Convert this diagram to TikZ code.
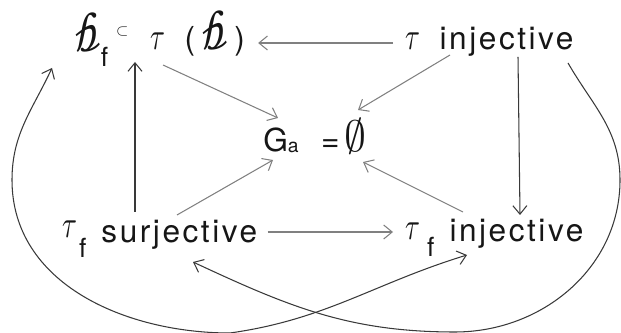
\documentclass[tikz,border=0pt]{standalone}
\usepackage{graphicx}
\usepackage{fontspec}
\setmainfont{TeX Gyre Heros}[LetterSpace=8]
\newfontfamily\scrfont{Latin Modern Math}
\IfFontExistsTF{STIX Two Math}{\newfontfamily\cursfont{STIX Two Math}}
  {\IfFontExistsTF{XITS Math}{\newfontfamily\cursfont{XITS Math}}
    {\newfontfamily\cursfont{Asana Math}}}
\usetikzlibrary{arrows.meta,calc}
\definecolor{dgInk}{HTML}{161616}
\definecolor{dgGray}{HTML}{808080}
\newcommand{\tauit}{\scalebox{0.7}[1]{{\scrfont\fontsize{22}{22}\selectfont 𝜏}}}
\newcommand{\scb}{\scalebox{0.78}[1]{\cursfont\fontsize{31}{31}\selectfont 𝒷}}
\newcommand{\subf}{\raisebox{-0.3cm}{\fontsize{15}{15}\selectfont f}}
\tikzset{
  % plain statement text
  txt/.style={anchor=base west,inner sep=0pt,text=dgInk,
    font=\fontsize{18}{20}\selectfont},
  % light arrow
  arr/.style={-{Straight Barb[length=1.7mm,width=2.8mm]},line width=0.6pt,color=dgGray},
  % dark arrow
  arrk/.style={-{Straight Barb[length=1.7mm,width=2.8mm]},line width=0.6pt,color=dgInk!85},
}
\begin{document}
\begin{tikzpicture}[x=0.02cm,y=0.02cm]
  \useasboundingbox (0,0) rectangle (621,-333);
  \node[txt] (tinj) at (405,-50) {\tauit\hspace{0.45cm}injective};
  \node[txt] (bf) at (75,-52) {\scb\subf};
  \node[txt,anchor=center] (sub) at (123,-32) {\scrfont\fontsize{9}{9}\selectfont ⊂};
  \node[txt] (tb) at (150,-50) {\tauit\hspace{0.45cm}(\hspace{0.15cm}\scb\hspace{0.12cm})};
  \node[txt] (ga) at (263,-152) {G\raisebox{-0.02cm}{\fontsize{11}{11}\selectfont a}\hspace{0.45cm}=\hspace{0.1cm}{\scrfont\fontsize{25}{25}\selectfont ∅}};
  \node[txt] (fsur) at (62,-243) {\raisebox{0.1cm}{\tauit}\hspace{0.1cm}\subf\hspace{0.3cm}surjective};
  \node[txt] (finj) at (405,-242) {\raisebox{0.05cm}{\tauit}\hspace{0.2cm}\subf\hspace{0.3cm}injective};

  \draw[arr] ($(tinj.base west)+(-12,7)$) -- ($(tb.base east)+(13,7)$);
  \draw[arr] ($(tb.base west)+(13,-15)$) -- ($(ga.base west)+(15,34)$);
  \draw[arr] ($(fsur.base west)+(115,28)$) -- ($(ga.base west)+(10,-8)$);
  \draw[arr] ($(tinj.base west)+(45,-5)$) -- ($(ga.base west)+(95,42)$);
  \draw[arr] ($(finj.base west)+(58,30)$) -- ($(ga.base west)+(100,-10)$);
  \draw[arrk] ($(fsur.base west)+(73,31)$) -- ($(sub.center)+(12,-30)$);
  \draw[arrk] ($(tinj.base west)+(113,-7)$) -- ($(finj.base west)+(115,27)$);
  \draw[arr] ($(fsur.base east)+(10,11)$) -- ($(finj.base west)+(-12,10)$);
  \draw[arrk] ($(tinj.base west)+(163,-13)$) to[out=-60,in=90] (620,-180)
    to[out=-90,in=0] (455,-332) to[out=180,in=-25] ($(fsur.base west)+(131,-19)$);
  \draw[arrk,{Straight Barb[length=1.7mm,width=2.8mm]}-{Straight Barb[length=1.7mm,width=2.8mm]}]
    ($(bf.base west)+(-23,-16)$) to[out=-115,in=90] (12,-180)
    to[out=-90,in=180] (230,-333) to[out=8,in=197] ($(finj.base west)+(62,-13)$);
\end{tikzpicture}
\end{document}
